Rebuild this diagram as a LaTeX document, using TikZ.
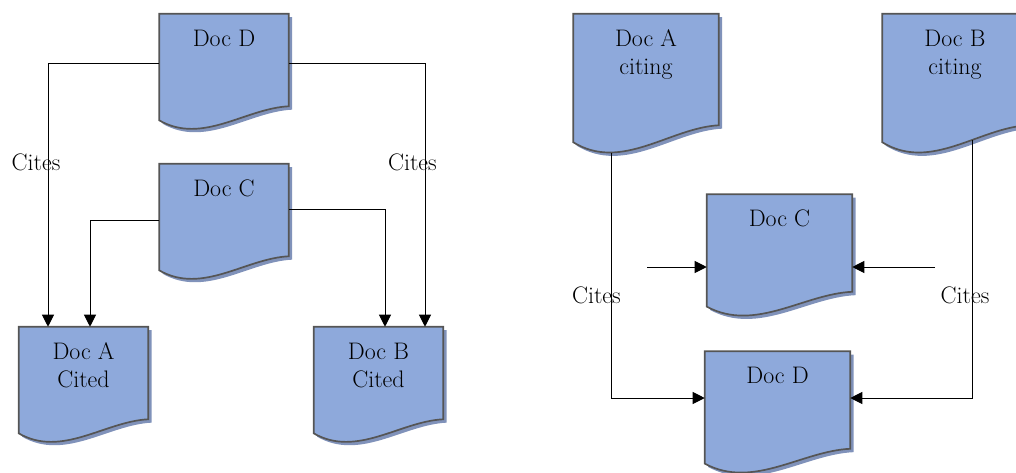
\documentclass[tikz,border=0pt]{standalone}
\usetikzlibrary{arrows.meta, calc, backgrounds}
\definecolor{docblue}{RGB}{142,169,219}
\definecolor{docshade}{RGB}{128,146,186}
\definecolor{docedge}{RGB}{85,85,85}
\tikzset{
  doc/.style={inner sep=0pt, align=center, text height=0.8cm, font=\fontsize{17}{20}\selectfont},
  docnarrow/.style={doc, minimum width=3.225cm, text depth=1.5cm},
  doccited/.style={doc, minimum width=3.225cm, text height=1.506cm, text depth=0.794cm},
  docwide/.style={doc, minimum width=3.625cm, text depth=1.625cm},
  doctall/.style={doc, minimum width=3.625cm, text height=1.506cm, text depth=1.269cm},
  docpaint/.style={fill=docblue, draw=docedge, line width=1.2pt,
    preaction={fill=docshade, transform canvas={shift={(2.4pt,-2.4pt)}}}},
  cite/.style={line width=0.7pt, -{Triangle[length=0.3cm,width=0.3cm]}},
  citetext/.style={font=\fontsize{17}{20}\selectfont},
}
% page with wavy bottom, drawn behind node #1
\newcommand\docshape[1]{%
  \begin{pgfonlayer}{background}
  \path[docpaint] let \p1=(#1.south west), \p2=(#1.north east), \p3=($(\p2)-(\p1)$) in
    (\x1,\y2) -- (\x2,\y2) -- (\x2,\y1)
    .. controls (\x1+0.667*\x3,\y1-0.022*\y3) and (\x1+0.333*\x3,\y1-0.419*\y3) .. (\x1,\y1-0.152*\y3)
    -- cycle;
  \end{pgfonlayer}}

\begin{document}
\begin{tikzpicture}
  \useasboundingbox (0,0) rectangle (25.4,-11.8);
  % left: cited documents
  \node[docnarrow] (docD) at (5.6,-1.5) {Doc D};
  \node[docnarrow] (docC) at (5.6,-5.25) {Doc C};
  \node[doccited] (docA) at (2.0875,-9.325) {Doc A\\Cited};
  \node[doccited] (docB) at (9.4625,-9.325) {Doc B\\Cited};
  \foreach \d in {docD,docC,docA,docB} {\docshape{\d}}
  \draw[cite] ([yshift=-0.075cm]docD.west) -| ([xshift=-0.8875cm]docA.north);
  \draw[cite] ([yshift=-0.25cm]docC.west) -| ([xshift=0.1625cm]docA.north);
  \draw[cite] ([yshift=0.025cm]docC.east) -| ([xshift=0.1625cm]docB.north);
  \draw[cite] ([yshift=-0.075cm]docD.east) -| ([xshift=1.1625cm]docB.north);
  \node[citetext] (citesL) at (0.9,-4.05) {Cites};
  \node[citetext] (citesR) at (10.31,-4.05) {Cites};

  % right: citing documents
  \node[doctall] (citingA) at (16.15,-1.7375) {Doc A\\citing};
  \node[doctall] (citingB) at (23.875,-1.7375) {Doc B\\citing};
  \node[docwide] (docC2) at (19.4875,-6.075) {Doc C};
  \node[docwide] (docD2) at (19.4375,-10.0) {Doc D};
  \foreach \d in {citingA,citingB,docC2,docD2} {\docshape{\d}}
  \coordinate (inL) at (16.175,-6.675);
  \coordinate (inR) at (23.375,-6.675);
  \draw[cite] (inL) -- ([yshift=-0.6cm]docC2.west);
  \draw[cite] (inR) -- ([yshift=-0.6cm]docC2.east);
  \draw[cite] ([xshift=-0.875cm,yshift=-0.69cm]citingA.south) |- ([yshift=0.05cm]docD2.west);
  \draw[cite] ([xshift=0.425cm,yshift=-0.375cm]citingB.south) |- ([yshift=0.05cm]docD2.east);
  \node[citetext] (citesA) at (14.91,-7.375) {Cites};
  \node[citetext] (citesB) at (24.125,-7.375) {Cites};
\end{tikzpicture}
\end{document}
